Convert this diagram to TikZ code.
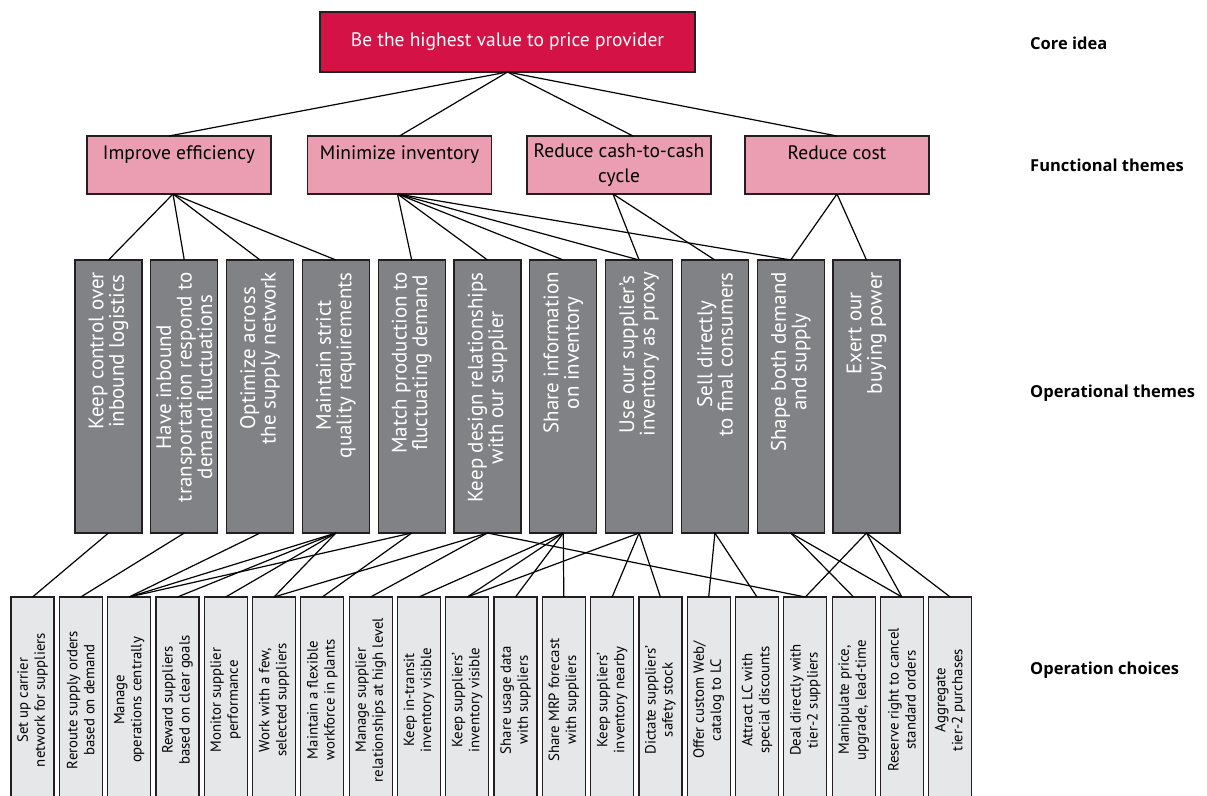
\documentclass[tikz,border=0pt]{standalone}
\usepackage{fontspec}
\setmainfont{PT Sans}
\newfontfamily\labelfont{Open Sans}
\usetikzlibrary{calc}
\definecolor{corered}{RGB}{212,18,69}
\definecolor{pinkc}{RGB}{235,157,178}
\definecolor{grayc}{RGB}{128,130,133}
\definecolor{lightc}{RGB}{230,231,232}
\definecolor{edgec}{RGB}{35,31,32}
\begin{document}
\begin{tikzpicture}[x=1pt,y=-1pt,
 box/.style={draw=edgec, line width=1.2pt, inner sep=0pt, outer sep=0pt},
 corebox/.style={box, fill=corered, minimum width=375pt, minimum height=60pt, text=white, font=\fontsize{19.5}{23}\selectfont},
 funcbox/.style={box, fill=pinkc, minimum width=184pt, minimum height=58pt, align=center, font=\fontsize{19.5}{25}\selectfont},
 opbox/.style={box, fill=grayc, minimum width=67pt, minimum height=273pt},
 optext/.style={rotate=90, anchor=east, align=center, text=white, inner sep=0pt, font=\fontsize{21}{20.5}\selectfont},
 chbox/.style={box, fill=lightc, minimum width=43pt, minimum height=210pt},
 chtext/.style={rotate=90, align=center, inner sep=0pt, font=\fontsize{14.8}{17}\selectfont},
 levellabel/.style={anchor=west, inner sep=0pt, font=\labelfont\bfseries\fontsize{16.5}{20}\selectfont},
 conn/.style={draw=black, line width=1.2pt}
]
\useasboundingbox (0,0) rectangle (1207,795);
\clip (0,0) rectangle (1207,795);

% core idea
\node[corebox] (core) at (507.5,42) {Be the highest value to price provider};

% functional themes
\node[funcbox] (ie)  at (179,165)   {Improve efficiency\\\mbox{}};
\node[funcbox] (mi)  at (399.5,165) {Minimize inventory\\\mbox{}};
\node[funcbox] (rc)  at (619,165)   {Reduce cash-to-cash\\cycle};
\node[funcbox] (rco) at (837,165)   {Reduce cost\\\mbox{}};

% operational themes
\foreach \t [count=\i] in {
 {Keep control over\\inbound logistics},
 {Have inbound\\transportation respond to\\demand fluctuations},
 {Optimize across\\the supply network},
 {Maintain strict\\quality requirements},
 {Match production to\\fluctuating demand},
 {Keep design relationships\\with our supplier},
 {Share information\\on inventory},
 {Use our supplier’s\\inventory as proxy},
 {Sell directly\\to final consumers},
 {Shape both demand\\and supply},
 {Exert our\\buying power}}{
  \pgfmathsetmacro{\cx}{108.5+75.8*(\i-1)}
  \node[opbox] (g\i) at (\cx,396.5) {};
  \node[optext] (gt\i) at (\cx,272) {\t};
}

% operation choices
\foreach \t [count=\i] in {
 {Set up carrier\\network for suppliers},
 {Reroute supply orders\\based on demand},
 {Manage\\operations centrally},
 {Reward suppliers\\based on clear goals},
 {Monitor supplier\\performance},
 {Work with a few,\\selected suppliers},
 {Maintain a flexible\\workforce in plants},
 {Manage supplier\\relationships at high level},
 {Keep in-transit\\inventory visible},
 {Keep suppliers’\\inventory visible},
 {Share usage data\\with suppliers},
 {Share MRP forecast\\with suppliers},
 {Keep suppliers’\\inventory nearby},
 {Dictate suppliers’\\safety stock},
 {Offer custom Web/\\catalog to LC},
 {Attract LC with\\special discounts},
 {Deal directly with\\tier-2 suppliers},
 {Manipulate price,\\upgrade, lead-time},
 {Reserve right to cancel\\standard orders},
 {Aggregate\\tier-2 purchases}}{
  \pgfmathsetmacro{\cx}{32.5+48.3*(\i-1)}
  \node[chbox] (b\i) at (\cx,702) {};
  \node[chtext] (bt\i) at (\cx,700) {\t};
}

% level labels
\node[levellabel] (l1) at (1030,43)  {Core idea};
\node[levellabel] (l2) at (1030,165) {Functional themes};
\node[levellabel] (l3) at (1030,393) {Operational themes};
\node[levellabel] (l4) at (1030,670) {Operation choices};

% connectors: core -> functional
\draw[conn] (core.south) -- ($(ie.north)+(-10,0)$);
\draw[conn] (core.south) -- (mi.north);
\draw[conn] (core.south) -- ($(rc.north)+(14,0)$);
\draw[conn] (core.south) -- (rco.north);

% functional -> operational
\foreach \d in {1,2,3,4} \draw[conn] ($(ie.south)+(-6,0)$) -- (g\d.north);
\foreach \d in {5,6,7,8,10} \draw[conn] ($(mi.south)+(-2,0)$) -- (g\d.north);
\foreach \d in {8,9} \draw[conn] ($(rc.south)+(-6,0)$) -- (g\d.north);
\foreach \d in {10,11} \draw[conn] (rco.south) -- (g\d.north);

% operational -> choices
\foreach \s/\d in {1/1,2/2,3/3,4/3,4/4,4/5,4/6,5/3,5/7,6/6,6/8,6/17,
  7/9,7/10,7/11,7/12,8/10,8/13,8/14,9/15,9/16,10/18,10/19,11/17,11/19,11/20}
  \draw[conn] (g\s.south) -- (b\d.north);
\end{tikzpicture}
\end{document}
